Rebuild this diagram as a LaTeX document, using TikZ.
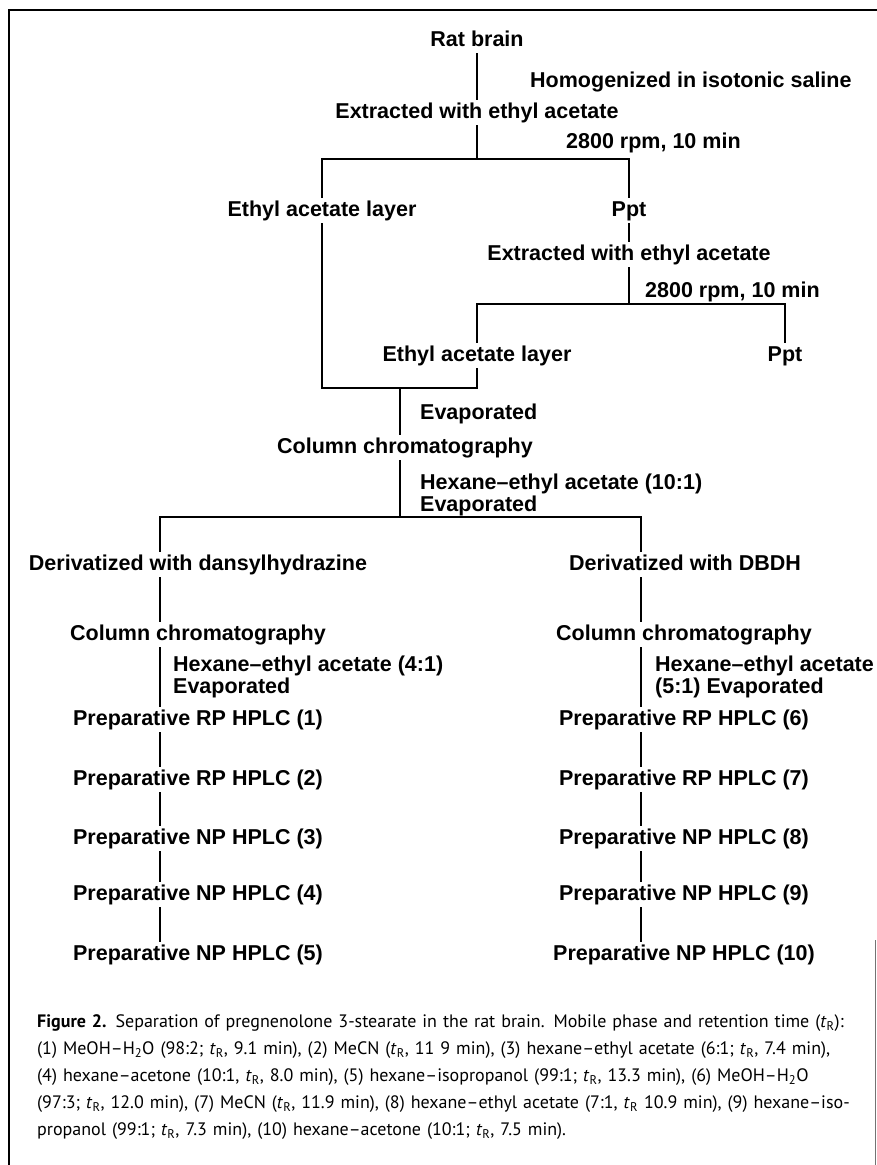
\documentclass[tikz,border=0pt]{standalone}
\usepackage{fontspec}
\setmainfont{Liberation Sans}
\newfontfamily\capfont[Ligatures=TeX]{PT Sans}
\usepackage{tikz}
\usetikzlibrary{positioning}
\newcommand{\tret}{\textit{t}\textsubscript{R}}

\begin{document}
\begin{tikzpicture}
        [x=1pt, y=-1pt,
         stage/.style={font=\bfseries\fontsize{21.5}{22}\selectfont, anchor=base,
                       inner sep=3pt, text height=15pt, text depth=4pt},
         note/.style={font=\bfseries\fontsize{21.5}{22}\selectfont, anchor=base west,
                      inner sep=0pt, align=left},
         link/.style={line width=2pt}]
        \useasboundingbox (0,0) rectangle (877,1165);
        \draw [line width=2.5pt] (9,1165) -- (9,10) -- (877,10);
        \draw [line width=0.8pt, black!55] (875,940) -- (875,1165);

        \node [stage] (rat) at (477,46) {Rat brain};
        \node [note] (homog) at (530,87) {Homogenized in isotonic saline};
        \node [stage] (ext1) at (477,118) {Extracted with ethyl acetate};
        \node [note] (spin1) at (566,148) {2800 rpm, 10 min};
        \coordinate (split1) at (477,159);

        \node [stage] (layer1) at (322,216) {Ethyl acetate layer};
        \node [stage] (ppt1) at (629,216) {Ppt};
        \node [stage] (ext2) at (629,260) {Extracted with ethyl acetate};
        \node [note] (spin2) at (645,297) {2800 rpm, 10 min};
        \coordinate (split2) at (629,304);

        \node [stage] (layer2) at (477,361) {Ethyl acetate layer};
        \node [stage] (ppt2) at (785,361) {Ppt};
        \coordinate (merge) at (477,388);
        \coordinate (join) at (400,388);

        \node [note] (evap) at (420,419) {Evaporated};
        \node [stage] (col1) at (405,453) {Column chromatography};
        \node [note, anchor=north west] (elute1) at (420,474) {Hexane--ethyl acetate (10:1)\\Evaporated};
        \coordinate (split3) at (400,517);
        \coordinate (lcol) at (160,517);
        \coordinate (rcol) at (641,517);

        \node [stage] (der1) at (198,570) {Derivatized with dansylhydrazine};
        \node [stage] (der2) at (685,570) {Derivatized with DBDH};
        \node [stage] (col2) at (198,640) {Column chromatography};
        \node [stage] (col3) at (684,640) {Column chromatography};
        \node [note, anchor=north west] (elute2) at (173,656) {Hexane--ethyl acetate (4:1)\\Evaporated};
        \node [note, anchor=north west] (elute3) at (655,656) {Hexane--ethyl acetate\\(5:1) Evaporated};

        \foreach \i/\n/\kind/\y in {1/6/RP/725, 2/7/RP/785, 3/8/NP/844, 4/9/NP/900, 5/10/NP/960} {
            \node [stage] (left\i) at (198,\y) {Preparative \kind\ HPLC (\i)};
            \node [stage] (right\i) at (684,\y) {Preparative \kind\ HPLC (\n)};
        }

        \draw [link] (rat) -- (ext1);
        \draw [link] (ext1) -- (split1);
        \draw [link] (layer1) |- (split1) -| (ppt1);
        \draw [link] (ppt1) -- (ext2);
        \draw [link] (ext2) -- (split2);
        \draw [link] (layer2) |- (split2) -| (ppt2);
        \draw [link] (layer1) |- (merge) -- (layer2);
        \draw [link] (join) -- (join |- col1.north);
        \draw [link] (col1.south -| split3) -- (split3);
        \draw [link] (der1.north -| lcol) |- (split3) -| (der2.north -| rcol);
        \draw [link] (der1.south -| lcol) -- (col2.north -| lcol);
        \draw [link] (der2.south -| rcol) -- (col3.north -| rcol);
        \draw [link] (col2.south -| lcol) -- (left1.north -| lcol);
        \draw [link] (col3.south -| rcol) -- (right1.north -| rcol);
        \foreach \i [count=\j from 2] in {1,...,4} {
            \draw [link] (left\i.south -| lcol) -- (left\j.north -| lcol);
            \draw [link] (right\i.south -| rcol) -- (right\j.north -| rcol);
        }

        \node [anchor=north west, inner sep=0pt, text width=825pt,
               font=\capfont\fontsize{18}{27}\selectfont] (caption) at (37,1014) {%
            \makebox[\linewidth][s]{\textbf{Figure 2.} Separation of pregnenolone 3-stearate in the rat brain. Mobile phase and retention time (\tret):}\\
            \makebox[\linewidth][s]{(1) MeOH--H\textsubscript{2}O (98:2; \tret, 9.1 min), (2) MeCN (\tret, 11 9 min), (3) hexane--ethyl acetate (6:1; \tret, 7.4 min),}\\
            \makebox[\linewidth][s]{(4) hexane--acetone (10:1, \tret, 8.0 min), (5) hexane--isopropanol (99:1; \tret, 13.3 min), (6) MeOH--H\textsubscript{2}O}\\
            \makebox[\linewidth][s]{(97:3; \tret, 12.0 min), (7) MeCN (\tret, 11.9 min), (8) hexane--ethyl acetate (7:1, \tret\ 10.9 min), (9) hexane--iso-}\\
            propanol (99:1; \tret, 7.3 min), (10) hexane--acetone (10:1; \tret, 7.5 min).};
\end{tikzpicture}
\end{document}
